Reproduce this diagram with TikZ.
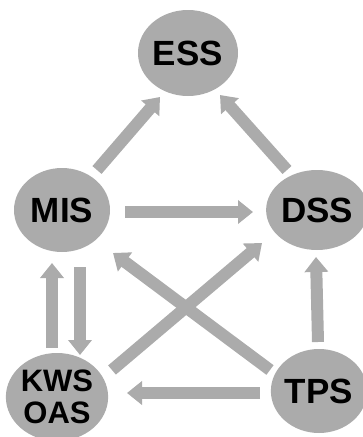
\documentclass[tikz,border=0pt]{standalone}
\usepackage{fontspec}
\setmainfont{Liberation Sans}
\usetikzlibrary{arrows.meta,shapes.geometric,calc}
\begin{document}
\begin{tikzpicture}[x=1pt,y=-1pt,
  sys/.style={ellipse,fill=gray!66,inner sep=0pt,font=\fontsize{35}{35}\selectfont\bfseries,text=black},
  flow/.style={draw=gray!66,line width=12pt,-{Triangle[width=23pt,length=15pt]}}]
\useasboundingbox (0,0) rectangle (363,437);
\node[sys,minimum width=100pt,minimum height=86pt] (ess) at (188,53) {ESS};
\node[sys,minimum width=96pt,minimum height=84pt] (mis) at (62,210) {MIS};
\node[sys,minimum width=92pt,minimum height=80pt] (dss) at (317,210) {DSS};
\node[sys,minimum width=98pt,minimum height=88pt,align=center,font=\fontsize{31}{32}\selectfont\bfseries] (kws) at (57,397) {KWS\\OAS};
\node[sys,minimum width=88pt,minimum height=84pt] (tps) at (319,391) {TPS};
\draw[flow] ($(mis)+(35,-40)$) -- ($(ess)+(-28,44)$);
\draw[flow] ($(dss)+(-30,-40)$) -- ($(ess)+(32,42)$);
\draw[flow] ($(mis)+(63,2)$) -- ($(dss)+(-64,2)$);
\draw[flow] ($(kws)+(-5,-49)$) -- ($(mis)+(-10,53)$);
\draw[flow] ($(mis)+(18,57)$) -- ($(kws)+(23,-42)$);
\draw[flow] ($(tps)+(-49,-21)$) -- ($(mis)+(51,43)$);
\draw[flow] ($(kws)+(55,-27)$) -- ($(dss)+(-55,33)$);
\draw[flow] ($(tps)+(-59,2)$) -- ($(kws)+(70,-4)$);
\draw[flow] ($(tps)+(-1,-49)$) -- ($(dss)+(-1,47)$);
\end{tikzpicture}
\end{document}
